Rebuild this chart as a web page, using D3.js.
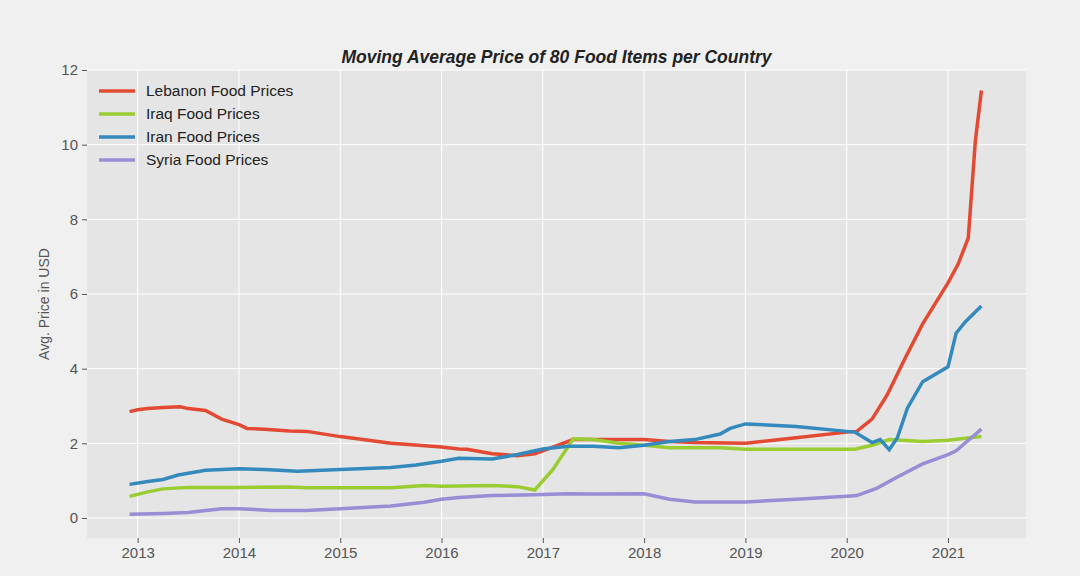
<!DOCTYPE html>
<html><head><meta charset="utf-8">
<script src="https://cdn.jsdelivr.net/npm/d3@7"></script>
<style>body{margin:0;background:#f0f0f0;font-family:"Liberation Sans",Arial,sans-serif}</style>
</head><body><svg id="c" width="1080" height="576"></svg>
<script>
// [decimal year, avg price]
const lebanon = [[2012.92,2.85],[2013.0,2.9],[2013.1,2.93],[2013.25,2.96],[2013.42,2.98],[2013.5,2.93],[2013.67,2.88],[2013.83,2.65],[2014.0,2.5],[2014.08,2.4],[2014.25,2.38],[2014.5,2.33],[2014.67,2.32],[2015.0,2.18],[2015.5,2.0],[2015.67,1.97],[2016.0,1.9],[2016.17,1.85],[2016.25,1.84],[2016.5,1.72],[2016.75,1.67],[2016.92,1.72],[2017.0,1.8],[2017.3,2.1],[2017.5,2.1],[2018.0,2.1],[2018.25,2.05],[2018.5,2.02],[2019.0,2.0],[2019.5,2.15],[2020.0,2.3],[2020.1,2.32],[2020.25,2.65],[2020.4,3.3],[2020.58,4.3],[2020.75,5.2],[2021.0,6.3],[2021.1,6.8],[2021.2,7.5],[2021.27,10.1],[2021.33,11.45]];
const iraq = [[2012.92,0.58],[2013.1,0.7],[2013.25,0.78],[2013.5,0.82],[2014.0,0.82],[2014.5,0.83],[2014.67,0.81],[2015.5,0.81],[2015.83,0.87],[2016.0,0.85],[2016.5,0.87],[2016.75,0.84],[2016.92,0.75],[2017.1,1.3],[2017.3,2.12],[2017.5,2.1],[2017.75,2.0],[2018.0,1.95],[2018.25,1.88],[2018.5,1.88],[2018.75,1.88],[2019.0,1.84],[2019.5,1.84],[2020.08,1.84],[2020.25,1.95],[2020.42,2.1],[2020.75,2.05],[2021.0,2.08],[2021.33,2.18]];
const iran = [[2012.92,0.9],[2013.1,0.98],[2013.25,1.03],[2013.4,1.15],[2013.67,1.28],[2014.0,1.32],[2014.25,1.3],[2014.58,1.25],[2015.0,1.3],[2015.5,1.35],[2015.75,1.42],[2016.0,1.52],[2016.17,1.6],[2016.5,1.58],[2016.75,1.7],[2017.0,1.85],[2017.25,1.92],[2017.5,1.92],[2017.75,1.88],[2018.0,1.95],[2018.25,2.05],[2018.5,2.1],[2018.75,2.25],[2018.85,2.4],[2019.0,2.52],[2019.5,2.45],[2020.0,2.32],[2020.08,2.3],[2020.25,2.02],[2020.33,2.1],[2020.42,1.83],[2020.5,2.15],[2020.6,2.95],[2020.75,3.65],[2021.0,4.05],[2021.08,4.95],[2021.17,5.25],[2021.33,5.68]];
const syria = [[2012.92,0.1],[2013.25,0.12],[2013.5,0.15],[2013.83,0.25],[2014.0,0.25],[2014.33,0.2],[2014.67,0.2],[2015.0,0.25],[2015.5,0.32],[2015.83,0.42],[2016.0,0.5],[2016.17,0.55],[2016.5,0.6],[2016.92,0.62],[2017.25,0.65],[2017.5,0.64],[2018.0,0.65],[2018.25,0.5],[2018.5,0.43],[2018.75,0.43],[2019.0,0.43],[2019.5,0.5],[2020.0,0.58],[2020.1,0.6],[2020.3,0.8],[2020.5,1.1],[2020.75,1.45],[2021.0,1.7],[2021.08,1.8],[2021.33,2.38]];
const seriesNames = ['Lebanon Food Prices','Iraq Food Prices','Iran Food Prices','Syria Food Prices'];
const colors = ['#E24A33','#9ACD32','#348ABD','#988ED5'];
const xTicks = [2013,2014,2015,2016,2017,2018,2019,2020,2021];
const yTicks = [0,2,4,6,8,10,12];

const svg = d3.select('#c');
const L = 87, R = 1026, T = 70, B = 538;
const x = d3.scaleLinear().domain([2012.5, 2021.77]).range([L, R]);
const y = d3.scaleLinear().domain([-0.536, 12]).range([B, T]);

svg.append('rect').attr('x', L).attr('y', T).attr('width', R - L).attr('height', B - T).attr('fill', '#e5e5e5');

var grid = svg.append('g').attr('stroke', '#fff').attr('stroke-width', 1);
xTicks.forEach(function (t) { grid.append('line').attr('x1', x(t)).attr('x2', x(t)).attr('y1', T).attr('y2', B); });
yTicks.forEach(function (t) { grid.append('line').attr('x1', L).attr('x2', R).attr('y1', y(t)).attr('y2', y(t)); });

const xa = svg.append('g').attr('transform', `translate(0,${B})`).call(d3.axisBottom(x).tickValues(xTicks).tickFormat(d3.format('d')).tickSize(5).tickPadding(4));
const ya = svg.append('g').attr('transform', `translate(${L},0)`).call(d3.axisLeft(y).tickValues(yTicks).tickSize(5).tickPadding(4));
[xa, ya].forEach(function (a) {
  a.select('.domain').remove();
  a.selectAll('line').attr('stroke', '#555');
  a.selectAll('text').attr('fill', '#555').style('font-size', '15px').style('font-family', '"Liberation Sans",Arial,sans-serif');
});

svg.append('text').attr('transform', `translate(49,${(T + B) / 2}) rotate(-90)`).attr('text-anchor', 'middle')
  .attr('fill', '#555').style('font-size', '14px').text('Avg. Price in USD');
svg.append('text').attr('x', (L + R) / 2).attr('y', 63).attr('text-anchor', 'middle')
  .style('font-size', '17.5px').style('font-weight', 'bold').style('font-style', 'italic').attr('fill', '#222')
  .text('Moving Average Price of 80 Food Items per Country');

const line = d3.line().x(d => x(d[0])).y(d => y(d[1]));
[lebanon, iraq, iran, syria].forEach(function (s, i) {
  svg.append('path').datum(s).attr('d', line).attr('fill', 'none').attr('stroke', colors[i]).attr('stroke-width', 3.5);
});

var lg = svg.append('g');
seriesNames.forEach(function (n, i) {
  var yy = 91 + i * 23;
  lg.append('line').attr('x1', 99).attr('x2', 135).attr('y1', yy).attr('y2', yy).attr('stroke', colors[i]).attr('stroke-width', 3.5);
  lg.append('text').attr('x', 146).attr('y', yy + 5).attr('fill', '#222').style('font-size', '15.5px').text(n);
});
</script></body></html>
